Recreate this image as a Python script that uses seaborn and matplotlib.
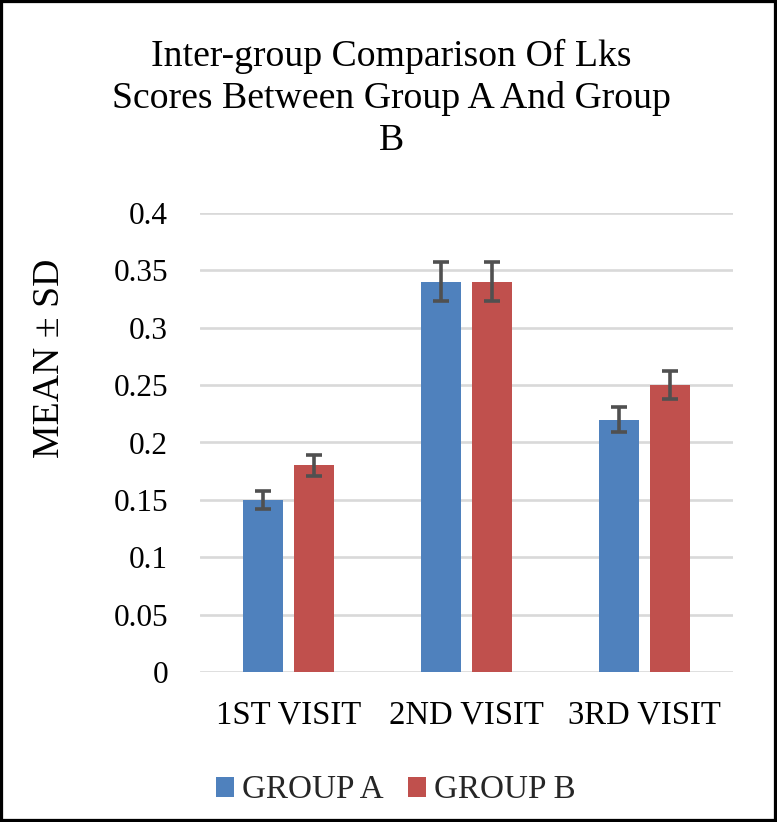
import matplotlib
matplotlib.use("Agg")
import matplotlib.pyplot as plt
import seaborn as sns
import pandas as pd
from matplotlib.patches import Rectangle

visits = ["1ST VISIT", "2ND VISIT", "3RD VISIT"]
groups = ["GROUP A", "GROUP B"]
mean_a = [0.15, 0.34, 0.22]
mean_b = [0.18, 0.34, 0.25]
sd_a = [0.008, 0.017, 0.011]
sd_b = [0.009, 0.017, 0.0125]
yticks = [0, 0.05, 0.1, 0.15, 0.2, 0.25, 0.3, 0.35, 0.4]
ytick_labels = ["0", "0.05", "0.1", "0.15", "0.2", "0.25", "0.3", "0.35", "0.4"]
title = "Inter-group Comparison Of Lks\nScores Between Group A And Group\nB"
ylabel = "MEAN \u00b1 SD"
colors = ["#4F81BD", "#C0504D"]

df = pd.DataFrame({
    "visit": visits * 2,
    "group": [groups[0]] * 3 + [groups[1]] * 3,
    "mean": mean_a + mean_b,
})

sns.set_theme(style="white")
plt.rcParams["font.family"] = ["Liberation Serif", "DejaVu Serif"]

W, H = 777, 822
fig = plt.figure(figsize=(W / 100, H / 100), dpi=100)
ax = fig.add_axes([199.6 / W, 1 - 672 / H, (733 - 199.6) / W, (672 - 213) / H])

sns.barplot(data=df, x="visit", y="mean", hue="group", palette=colors,
            width=0.574, gap=0.216, ax=ax, saturation=1, errorbar=None,
            linewidth=0, zorder=3)

for cont, sds in zip(ax.containers, [sd_a, sd_b]):
    for bar, sd in zip(cont, sds):
        xc = bar.get_x() + bar.get_width() / 2
        ax.errorbar(xc, bar.get_height(), yerr=sd, color="#505050",
                    elinewidth=2.6, capsize=6.1, capthick=2.6, zorder=4)

ax.set_ylim(0, 0.4)
ax.set_xlim(-0.5, 2.5)
ax.set_yticks(yticks)
ax.set_yticklabels(ytick_labels)
ax.yaxis.grid(True, color="#D9D9D9", linewidth=1.9, zorder=0)
ax.xaxis.grid(False)
ax.set_axisbelow(True)
for s in ax.spines.values():
    s.set_visible(False)
ax.tick_params(axis="y", length=0, pad=22.7, labelsize=22.5, labelcolor="black")
ax.tick_params(axis="x", length=0, pad=20, labelsize=23.6, labelcolor="black")
ax.set_xlabel("")
ax.set_ylabel("")

handles, labels = ax.get_legend_handles_labels()
if ax.get_legend() is not None:
    ax.get_legend().remove()
fig.legend(handles, labels, loc="center", bbox_to_anchor=(396 / W, 1 - 790 / H),
           ncol=2, frameon=False, fontsize=23.9, handlelength=0.55,
           handleheight=0.55, handletextpad=0.24, columnspacing=0.73)

fig.text(0.504, 1 - 39 / H, title, ha="center", va="top", fontsize=27.2,
         linespacing=1.27, color="black")
fig.text(49.5 / W, 1 - 358 / H, ylabel, rotation=90, ha="center", va="center",
         fontsize=27.2, color="black")

fig.patches.append(Rectangle((0, 0), 1, 1, transform=fig.transFigure,
                             fill=False, edgecolor="black", linewidth=4.5,
                             figure=fig))

fig.savefig("out.png", dpi=100)
